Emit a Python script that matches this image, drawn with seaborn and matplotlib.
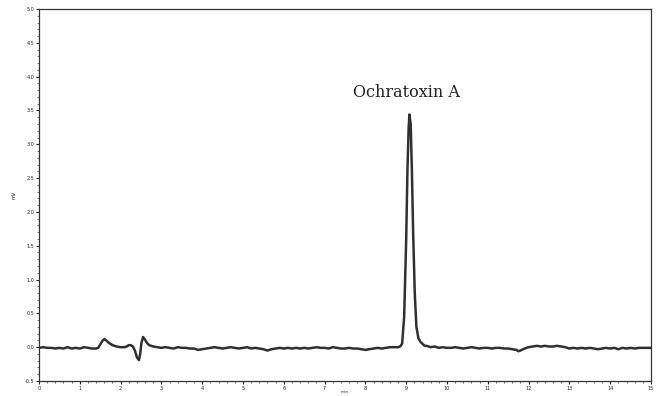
import numpy as np
import pandas as pd
import matplotlib
matplotlib.use("Agg")
import matplotlib.pyplot as plt
from matplotlib.ticker import MultipleLocator, FormatStrFormatter
import seaborn as sns

# Chromatogram trace (time in min, signal in mV)
time_min = [0.0, 0.1, 0.2, 0.3, 0.4, 0.5, 0.6, 0.7, 0.8, 0.9,
            1.0, 1.1, 1.2, 1.3, 1.4, 1.45, 1.5, 1.55, 1.6, 1.65,
            1.7, 1.75, 1.8, 1.9, 2.0, 2.1, 2.15, 2.2, 2.25, 2.3,
            2.35, 2.4, 2.45, 2.48, 2.51, 2.55, 2.6, 2.65, 2.7, 2.8,
            2.9, 3.0, 3.1, 3.2, 3.3, 3.4, 3.5, 3.6, 3.7, 3.8,
            3.9, 4.0, 4.1, 4.2, 4.3, 4.4, 4.5, 4.6, 4.7, 4.8,
            4.9, 5.0, 5.1, 5.2, 5.3, 5.4, 5.5, 5.6, 5.7, 5.8,
            5.9, 6.0, 6.1, 6.2, 6.3, 6.4, 6.5, 6.6, 6.7, 6.8,
            6.9, 7.0, 7.1, 7.2, 7.3, 7.4, 7.5, 7.6, 7.7, 7.8,
            7.9, 8.0, 8.1, 8.2, 8.3, 8.4, 8.5, 8.6, 8.7, 8.8,
            8.85, 8.9, 8.95, 9.0, 9.03, 9.06, 9.08, 9.11, 9.14, 9.17,
            9.21, 9.25, 9.3, 9.35, 9.4, 9.45, 9.5, 9.6, 9.7, 9.8,
            9.9, 10.0, 10.1, 10.2, 10.3, 10.4, 10.5, 10.6, 10.7, 10.8,
            10.9, 11.0, 11.1, 11.2, 11.3, 11.4, 11.5, 11.6, 11.7, 11.75,
            11.8, 11.9, 12.0, 12.1, 12.2, 12.3, 12.4, 12.5, 12.6, 12.7,
            12.8, 12.9, 13.0, 13.1, 13.2, 13.3, 13.4, 13.5, 13.6, 13.7,
            13.8, 13.9, 14.0, 14.1, 14.2, 14.3, 14.4, 14.5, 14.6, 14.7,
            14.8, 14.9, 15.0]
signal_mv = [-0.01, 0.00, -0.01, -0.01, -0.02, -0.01, -0.02, 0.00, -0.02, -0.01,
             -0.02, 0.00, -0.01, -0.02, -0.02, -0.01, 0.04, 0.09, 0.12, 0.10,
             0.07, 0.05, 0.03, 0.01, 0.00, 0.00, 0.01, 0.03, 0.03, 0.01,
             -0.05, -0.15, -0.19, -0.10, 0.06, 0.15, 0.11, 0.06, 0.03, 0.01,
             0.00, -0.01, 0.00, -0.01, -0.02, 0.00, -0.01, -0.01, -0.02, -0.02,
             -0.04, -0.03, -0.02, -0.01, 0.00, -0.01, -0.02, -0.01, 0.00, -0.01,
             -0.02, -0.01, 0.00, -0.02, -0.01, -0.02, -0.03, -0.05, -0.03, -0.02,
             -0.01, -0.02, -0.01, -0.02, -0.01, -0.02, -0.01, -0.02, -0.01, 0.00,
             -0.01, -0.01, -0.02, 0.00, -0.01, -0.02, -0.02, -0.01, -0.02, -0.02,
             -0.03, -0.04, -0.03, -0.02, -0.01, -0.02, -0.01, 0.00, 0.00, 0.00,
             0.01, 0.05, 0.45, 1.60, 2.60, 3.25, 3.44, 3.30, 2.60, 1.70,
             0.80, 0.30, 0.13, 0.08, 0.05, 0.02, 0.02, 0.00, 0.01, -0.01,
             0.00, -0.01, -0.01, 0.00, -0.01, -0.02, -0.01, 0.00, -0.01, -0.02,
             -0.01, -0.01, -0.02, -0.01, -0.01, -0.02, -0.02, -0.03, -0.04, -0.06,
             -0.05, -0.02, 0.00, 0.01, 0.02, 0.01, 0.02, 0.01, 0.01, 0.02,
             0.01, 0.00, -0.02, -0.01, -0.02, -0.01, -0.02, -0.01, -0.02, -0.03,
             -0.02, -0.01, -0.02, -0.01, -0.03, -0.01, -0.02, -0.01, -0.02, -0.01,
             -0.01, -0.01, -0.01]

peak_label = "Ochratoxin A"
peak_label_pos = (9.0, 3.76)

df = pd.DataFrame({"time": time_min, "signal": signal_mv})

sns.set_style("ticks")
plt.rcParams["font.family"] = ["DejaVu Sans"]

fig = plt.figure(figsize=(6.56, 3.96), dpi=100)
ax = fig.add_axes([39/656, 15/396, (651-39)/656, (381-9)/396])

sns.lineplot(data=df, x="time", y="signal", ax=ax, color="#303030",
             linewidth=1.8, estimator=None, sort=False)

ax.set_xlim(0, 15)
ax.set_ylim(-0.5, 5.0)
ax.xaxis.set_major_locator(MultipleLocator(1))
ax.xaxis.set_minor_locator(MultipleLocator(0.2))
ax.yaxis.set_major_locator(MultipleLocator(0.5))
ax.yaxis.set_minor_locator(MultipleLocator(0.1))
ax.yaxis.set_major_formatter(FormatStrFormatter("%.1f"))
ax.xaxis.set_major_formatter(FormatStrFormatter("%d"))
ax.tick_params(axis="both", which="major", labelsize=3.5, length=2.5,
               width=0.8, pad=0.8, colors="#222222")
ax.tick_params(axis="both", which="minor", length=1.3, width=0.5,
               colors="#444444")
for s in ax.spines.values():
    s.set_visible(True)
    s.set_linewidth(0.9)
    s.set_color("#333333")

ax.set_xlabel("min", fontsize=3.2, labelpad=-0.5)
ax.set_ylabel("mV", fontsize=3.5, labelpad=6)

ax.text(peak_label_pos[0], peak_label_pos[1], peak_label,
        family=["DejaVu Serif"], fontsize=11.5,
        ha="center", va="center", color="#222222")

fig.savefig("out.png", dpi=100)
